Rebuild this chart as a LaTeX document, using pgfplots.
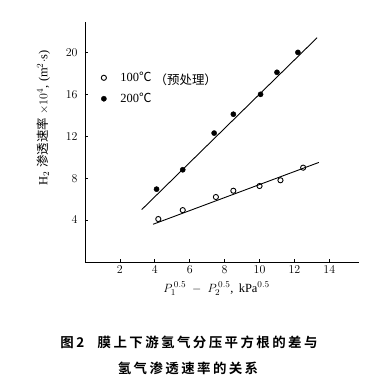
\documentclass[border=0pt]{standalone}
\usepackage{pgfplots}
\pgfplotsset{compat=1.18}
\usepackage{fontspec}
\setmainfont{Liberation Serif}
\newfontfamily\cjk{Noto Sans CJK SC}
\newfontfamily\cjkb[LetterSpace=18]{Noto Sans CJK SC Bold}
\begin{document}
\begin{tikzpicture}
\useasboundingbox (-85bp,-127bp) rectangle (301bp,262bp);
\begin{axis}[
  at={(0bp,0bp)}, anchor=origin,
  scale only axis, width=274bp, height=240bp,
  xmin=0, xmax=15.7, ymin=0, ymax=22.9,
  axis x line=bottom, axis y line=left,
  x axis line style={-, line width=0.9pt, black},
  y axis line style={-, line width=0.9pt, black},
  xtick={2,4,...,14}, ytick={4,8,...,20},
  tick align=inside, major tick length=3pt,
  tick style={line width=0.8pt, black},
  ticklabel style={font=\fontsize{12.5}{14}\selectfont},
  yticklabel style={xshift=-4pt},
  xlabel={$P_1^{\,0.5}\;-\;P_2^{\,0.5}$,\, kPa$^{0.5}$},
  xlabel style={font=\fontsize{12.5}{14}\selectfont, at={(ticklabel cs:0.48)}, anchor=near ticklabel, yshift=-2pt},
  ylabel={H$_2$\;{\cjk 渗透速率}\;$\times10^4$,\;(m$^2\cdot$s)},
  ylabel style={font=\fontsize{12.5}{14}\selectfont, at={(ticklabel cs:0.6)}, anchor=near ticklabel, yshift=9pt},
  legend style={at={(axis cs:0.75,18.5)}, anchor=north west, draw=none, fill=none,
    font=\fontsize{12.5}{14}\selectfont, row sep=6pt, legend cell align=left},
  clip=false,
]
\addplot[only marks, mark=o, mark size=2.6pt, line width=0.9pt] coordinates {
 (4.2,4.1) (5.6,4.95) (7.5,6.2) (8.5,6.8) (10.0,7.25) (11.2,7.8) (12.5,9.0)};
\addlegendentry{\hspace{12pt}100{\cjk ℃}\ \raisebox{-3pt}{\cjk（预处理）}}
\addplot[only marks, mark=*, mark size=2.6pt] coordinates {
 (4.1,6.95) (5.6,8.8) (7.4,12.3) (8.5,14.1) (10.06,16.0) (11.0,18.1) (12.2,20.0)};
\addlegendentry{\hspace{12pt}200{\cjk ℃}}
\addplot[line width=0.9pt, forget plot] coordinates {(3.25,5.0) (13.3,21.4)};
\addplot[line width=0.9pt, forget plot] coordinates {(3.9,3.6) (13.4,9.5)};
\end{axis}
\node[font=\cjkb\fontsize{13.5}{15}\selectfont] at (104bp,-80bp) {图2\quad 膜上下游氢气分压平方根的差与};
\node[font=\cjkb\fontsize{13.5}{15}\selectfont] at (103bp,-106bp) {氢气渗透速率的关系};
\end{tikzpicture}
\end{document}
